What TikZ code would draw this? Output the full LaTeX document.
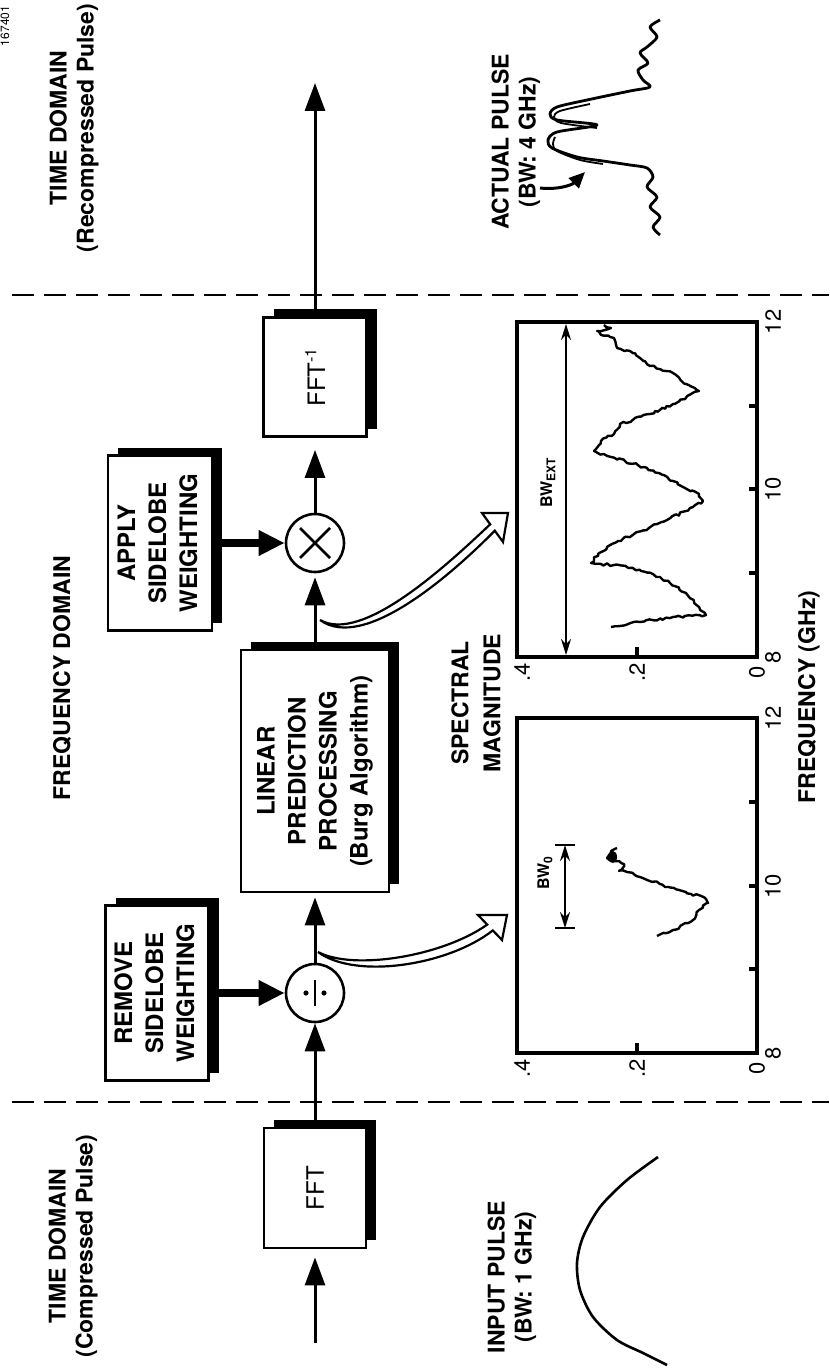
\documentclass[tikz,border=0pt]{standalone}
\usepackage{fontspec}
\setmainfont{TeX Gyre Heros}
\usetikzlibrary{arrows.meta,shadows,decorations.pathmorphing}
\begin{document}
\begin{tikzpicture}[x=0.5pt,y=-0.5pt,
  lbl/.style={font=\bfseries\fontsize{11.5}{13.5}\selectfont, align=center, rotate=90, inner sep=0},
  num/.style={font=\fontsize{11}{13}\selectfont, rotate=90, inner sep=0},
  bwl/.style={font=\bfseries\fontsize{8}{9}\selectfont, rotate=90, inner sep=0},
  blk/.style={draw, line width=1.4pt, fill=white, inner sep=0,
    font=\bfseries\fontsize{12}{15.5}\selectfont,
    general shadow={fill=black, shadow xshift=5pt, shadow yshift=4pt}},
  sumnode/.style={circle, draw, line width=1.3pt, fill=white, minimum size=29pt, inner sep=0},
  flow/.style={line width=1.5pt, -{Triangle[length=14pt,width=10pt]}},
  fat/.style={line width=4pt, -{Triangle[length=13pt,width=12pt]}},
  sep/.style={line width=1.4pt, dash pattern=on 11pt off 5pt},
  frame/.style={line width=1.6pt},
  spec/.style={line width=1.2pt, line join=round, decorate,
    decoration={random steps, segment length=1.6pt, amplitude=0.7pt}},
  hollow/.style={line width=1.1pt, fill=white, line join=miter},
]
\pgfmathsetseed{11}
\useasboundingbox (0,0) rectangle (829,1369);
\fill[white] (0,0) rectangle (829,1369);

% separators
\draw[sep] (12,295) -- (829,295);
\draw[sep] (12,1102) -- (829,1102);

% titles
\node[num, font=\fontsize{6}{7}\selectfont] (fid) at (5,26) {167401};
\node[lbl] (tdr) at (74,128) {TIME DOMAIN\\(Recompressed Pulse)};
\node[lbl] (fd) at (62,678) {FREQUENCY DOMAIN};
\node[lbl] (tdc) at (73,1246) {TIME DOMAIN\\(Compressed Pulse)};
\node[lbl] (apl) at (516,142) {ACTUAL PULSE\\(BW: 4 GHz)};
\node[lbl] (ipl) at (512,1277) {INPUT PULSE\\(BW: 1 GHz)};
\node[lbl, font=\bfseries\fontsize{11.5}{16}\selectfont] (smag) at (476,703) {SPECTRAL\\MAGNITUDE};
\node[lbl] (fq) at (809,697) {FREQUENCY (GHz)};

% blocks
\node[blk, minimum width=51.5pt, minimum height=59.5pt] (ifft) at (315,377)
  {\rotatebox{90}{\mdseries FFT\textsuperscript{-1}}};
\node[blk, minimum width=74pt, minimum height=121pt] (lp) at (315,771)
  {\rotatebox{90}{\begin{tabular}{@{}c@{}}LINEAR\\PREDICTION\\PROCESSING\\(Burg Algorithm)\end{tabular}}};
\node[blk, minimum width=52pt, minimum height=87.5pt] (apply) at (160,543)
  {\rotatebox{90}{\begin{tabular}{@{}c@{}}APPLY\\SIDELOBE\\WEIGHTING\end{tabular}}};
\node[blk, minimum width=51.5pt, minimum height=87.5pt] (remove) at (157,993)
  {\rotatebox{90}{\begin{tabular}{@{}c@{}}REMOVE\\SIDELOBE\\WEIGHTING\end{tabular}}};
\node[blk, minimum width=51pt, minimum height=60pt] (fft) at (315,1188)
  {\rotatebox{90}{\mdseries FFT}};

% operators
\node[sumnode] (mul) at (315,543) {};
\draw[line width=1.4pt] ([shift={(-15,-15)}]mul.center) -- ([shift={(15,15)}]mul.center);
\draw[line width=1.4pt] ([shift={(-15,15)}]mul.center) -- ([shift={(15,-15)}]mul.center);
\node[sumnode] (div) at (315,993) {};
\draw[line width=1.3pt] ([shift={(0,-13)}]div.center) -- ([shift={(0,13)}]div.center);
\fill ([shift={(-9,0)}]div.center) circle (2.6);
\fill ([shift={(9,0)}]div.center) circle (2.6);

% main flow
\coordinate (inp) at (315,1343);
\coordinate (outp) at (315,83);
\draw[flow, shorten >=4pt] (inp) -- (fft);
\draw[flow] (fft) -- (div);
\draw[flow, shorten >=2pt] (div) -- (lp);
\draw[flow, shorten >=2pt] (lp) -- (mul);
\draw[flow, shorten >=6pt] (mul) -- (ifft);
\draw[flow] (ifft) -- (outp);
\draw[fat] (remove) -- (div);
\draw[fat] (apply) -- (mul);

% hollow curved arrows
\draw[hollow] (320,620) .. controls (364,652) and (452,574) .. (494.8,530.7)
  -- (503,542) -- (508,513) -- (482,513) -- (490.2,524.3)
  .. controls (446,566) and (362,644) .. (320,620) -- cycle;
\draw[hollow] (318,952) .. controls (356,980) and (449,965) .. (492.8,930.4)
  -- (502,940) -- (507,915) -- (478,915) -- (487.2,924.6)
  .. controls (443,956) and (354,971) .. (318,952) -- cycle;

% right plot (extended spectrum)
\draw[frame] (517,322) rectangle (757,657);
\foreach \yy in {573,489,406} \draw[frame] (757,\yy) -- (749,\yy);
\draw[frame] (637,657) -- (637,647);
\node[num] (r4) at (522,672) {.4};
\node[num] (r2) at (637,672) {.2};
\node[num] (r0) at (757,672) {0};
\node[num] (r8) at (773,657) {8};
\node[num] (r10) at (773,489) {10};
\node[num] (r12) at (773,322) {12};
\coordinate (bwt) at (566,324);
\coordinate (bwb) at (566,655);
\draw[line width=1pt, {Stealth[length=8pt,width=5pt]}-{Stealth[length=8pt,width=5pt]}] (bwb) -- (bwt);
\node[bwl] (bwext) at (548,482) {BW\textsubscript{EXT}};
\draw[spec] (611,627) -- (640,622) -- (673,617) -- (706,615) -- (686,593) -- (660,577)
  -- (627,567) -- (601,564) -- (591,563) -- (598,554) -- (607,547) -- (634,534)
  -- (667,520) -- (693,507) -- (703,501) -- (699,494) -- (673,481) -- (644,467)
  -- (611,457) -- (594,451) -- (601,441) -- (614,434) -- (620,424) -- (650,414)
  -- (673,404) -- (699,391) -- (686,384) -- (673,373) -- (650,366) -- (640,358)
  -- (630,351) -- (617,348) -- (614,338) -- (601,335) -- (597,331) -- (611,328)
  -- (604,325);

% left plot (measured spectrum)
\draw[frame] (517,718) rectangle (757,1053);
\foreach \yy in {969,886,802} \draw[frame] (757,\yy) -- (749,\yy);
\draw[frame] (637,1053) -- (637,1043);
\node[num] (l4) at (522,1068) {.4};
\node[num] (l2) at (637,1068) {.2};
\node[num] (l0) at (757,1068) {0};
\node[num] (l8) at (773,1053) {8};
\node[num] (l10) at (773,886) {10};
\node[num] (l12) at (773,718) {12};
\draw[line width=1pt] (555,845) -- (575,845);
\draw[line width=1pt] (555,928) -- (575,928);
\coordinate (bw0t) at (565,845);
\coordinate (bw0b) at (565,928);
\draw[line width=1pt, {Stealth[length=8pt,width=5pt]}-{Stealth[length=8pt,width=5pt]}] (bw0b) -- (bw0t);
\node[bwl] (bw0) at (545,873) {BW\textsubscript{0}};
\draw[spec] (657,936) -- (673,930) -- (693,920) -- (699,910) -- (708,903) -- (706,899)
  -- (686,892) -- (660,884) -- (640,877) -- (627,872) -- (619,871) -- (624,864)
  -- (614,861) -- (607,858) -- (611,851) -- (617,848);
\fill (613,857) ellipse (4 and 6);

% actual pulse
\draw[line width=1.4pt, line join=round] plot[smooth, tension=0.5] coordinates {
  (660,20) (650,27) (657,37) (647,47) (640,53) (648,63) (638,70) (643,80) (650,87)
  (630,91) (587,100) (557,107) (550,114) (557,120) (597,125) (557,132) (548,140)
  (552,148) (577,157) (603,161) (630,165) (647,168) (653,177) (647,187) (657,197)
  (650,207) (660,217) (653,227) (660,235)};
\draw[line width=0.9pt] plot[smooth, tension=0.5] coordinates {
  (590,104) (560,111) (554,117) (561,123) (597,128)};
\draw[line width=0.9pt] plot[smooth, tension=0.5] coordinates {
  (555,137) (553,144) (557,151) (580,160) (603,164)};
\coordinate (apa) at (540,188);
\coordinate (apb) at (585,172);
\draw[line width=1.5pt, -{Triangle[length=8pt,width=7pt]}] (apa) .. controls (558,190) and (572,185) .. (apb);

% input pulse
\draw[line width=1.3pt] plot[smooth] coordinates {(658,1157) (627,1180) (600,1207)
  (583,1237) (577,1263) (580,1290) (593,1317) (617,1340) (643,1353) (667,1365)};
\end{tikzpicture}
\end{document}
